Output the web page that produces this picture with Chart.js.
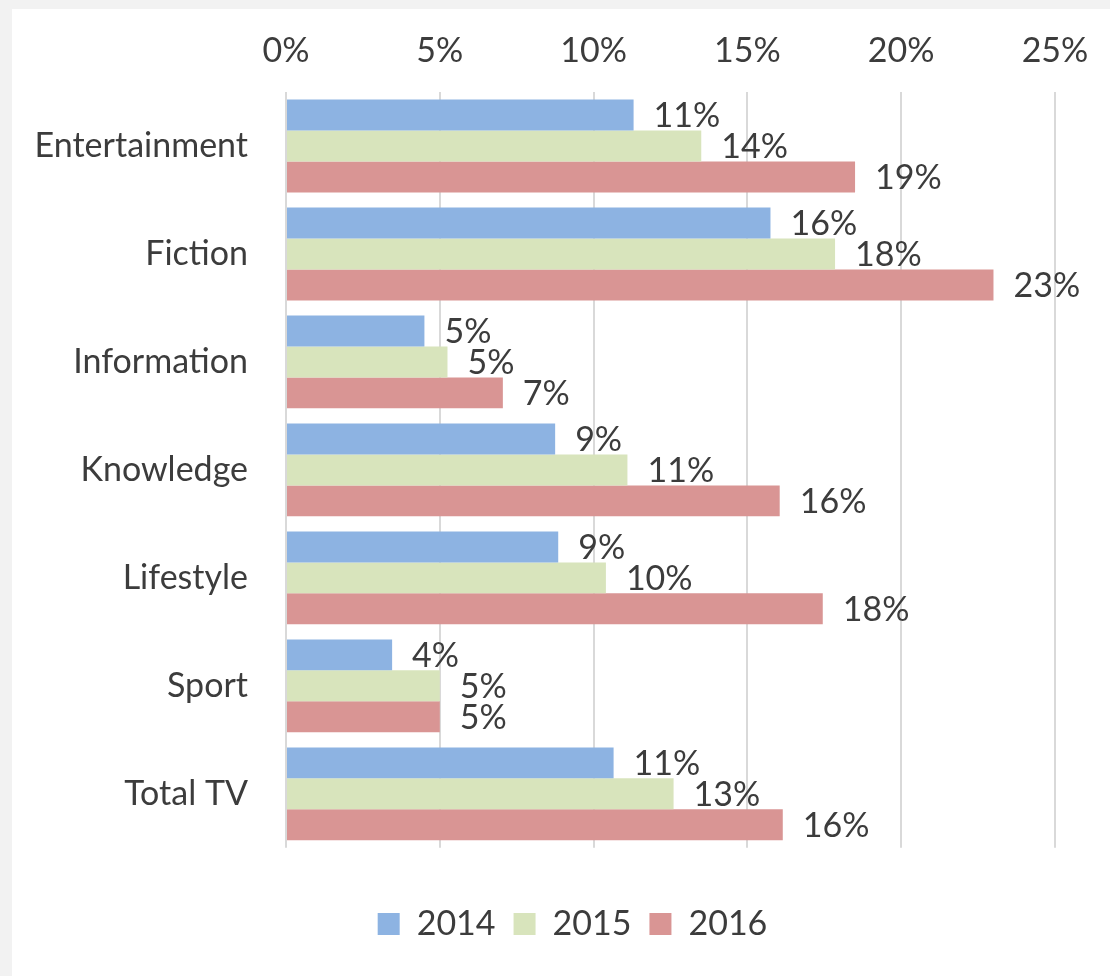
<!DOCTYPE html>
<html lang="en">
<head>
    <meta charset="UTF-8">
    <title>TV genre share 2014-2016</title>
    <script src="https://cdn.jsdelivr.net/npm/chart.js@4.4.1/dist/chart.umd.min.js"></script>
    <style>
        body {
            margin: 0;
            background-color: #f2f2f2;
            font-family: Lato, sans-serif;
        }
        .card {
            position: absolute;
            left: 12px;
            top: 9px;
            width: 1098px;
            height: 967px;
            background: #ffffff;
        }
    </style>
</head>
<body>
    <div class="card">
        <canvas id="genreChart"></canvas>
    </div>

    <script>
        // Data
        const genres = ['Entertainment', 'Fiction', 'Information', 'Knowledge', 'Lifestyle', 'Sport', 'Total TV'];
        const years = ['2014', '2015', '2016'];

        const share2014 = [11.3, 15.75, 4.5, 8.75, 8.85, 3.45, 10.65];
        const share2015 = [13.5, 17.85, 5.25, 11.1, 10.4, 5.0, 12.6];
        const share2016 = [18.5, 23.0, 7.05, 16.05, 17.45, 5.0, 16.15];

        // printed labels as they appear next to the bars
        const label2014 = [11, 16, 5, 9, 9, 4, 11];
        const label2015 = [14, 18, 5, 11, 10, 5, 13];
        const label2016 = [19, 23, 7, 16, 18, 5, 16];

        const xTicks = [0, 5, 10, 15, 20, 25];

        const textColor = '#3c3c3c';
        const fontSize = 34;

        // draws the % labels just right of each bar
        const barLabels = {
            id: 'barLabels',
            afterDatasetsDraw(chart) {
                const ctx = chart.ctx;
                ctx.save();
                ctx.font = fontSize + 'px Lato';
                ctx.fillStyle = textColor;
                ctx.textAlign = 'left';
                ctx.textBaseline = 'middle';
                chart.data.datasets.forEach((ds, i) => {
                    const meta = chart.getDatasetMeta(i);
                    meta.data.forEach((bar, j) => {
                        ctx.fillText(ds.printed[j] + '%', bar.x + 20, bar.y + 1);
                    });
                });
                ctx.restore();
            }
        };

        // nudge the legend right so it sits under the plot like the original
        const legendShift = {
            id: 'legendShift',
            afterLayout(chart) {
                chart.legend.left += 78;
            }
        };

        new Chart(document.getElementById('genreChart'), {
            type: 'bar',
            data: {
                labels: genres,
                datasets: [{
                    label: years[0],
                    data: share2014,
                    printed: label2014,
                    backgroundColor: '#8db3e2'
                }, {
                    label: years[1],
                    data: share2015,
                    printed: label2015,
                    backgroundColor: '#d8e4bc'
                }, {
                    label: years[2],
                    data: share2016,
                    printed: label2016,
                    backgroundColor: '#d99594'
                }]
            },
            options: {
                indexAxis: 'y',
                responsive: true,
                maintainAspectRatio: false,
                animation: false,
                categoryPercentage: 0.86,
                barPercentage: 1.0,
                layout: {
                    padding: { top: 0, right: 55, bottom: 25, left: 0 }
                },
                plugins: {
                    tooltip: { enabled: false },
                    legend: {
                        position: 'bottom',
                        title: {
                            display: true,
                            text: '',
                            font: { size: 1 },
                            padding: { top: 40, bottom: 0 }
                        },
                        labels: {
                            boxWidth: 22,
                            boxHeight: 22,
                            padding: 18,
                            color: textColor,
                            font: { family: 'Lato', size: fontSize }
                        }
                    }
                },
                scales: {
                    x: {
                        position: 'top',
                        min: 0,
                        max: 25,
                        afterBuildTicks: (scale) => {
                            scale.ticks = xTicks.map(v => ({ value: v }));
                        },
                        afterFit: (scale) => { scale.height = 83; },
                        grid: {
                            color: '#d9d9d9',
                            lineWidth: 2,
                            drawTicks: false
                        },
                        border: { display: false },
                        ticks: {
                            padding: 21,
                            color: textColor,
                            font: { family: 'Lato', size: fontSize },
                            callback: (v) => v + '%'
                        }
                    },
                    y: {
                        afterFit: (scale) => { scale.width = 274; },
                        grid: { display: false },
                        border: { display: false },
                        ticks: {
                            padding: 30,
                            color: textColor,
                            font: { family: 'Lato', size: fontSize }
                        }
                    }
                }
            },
            plugins: [barLabels, legendShift]
        });
    </script>
</body>
</html>
